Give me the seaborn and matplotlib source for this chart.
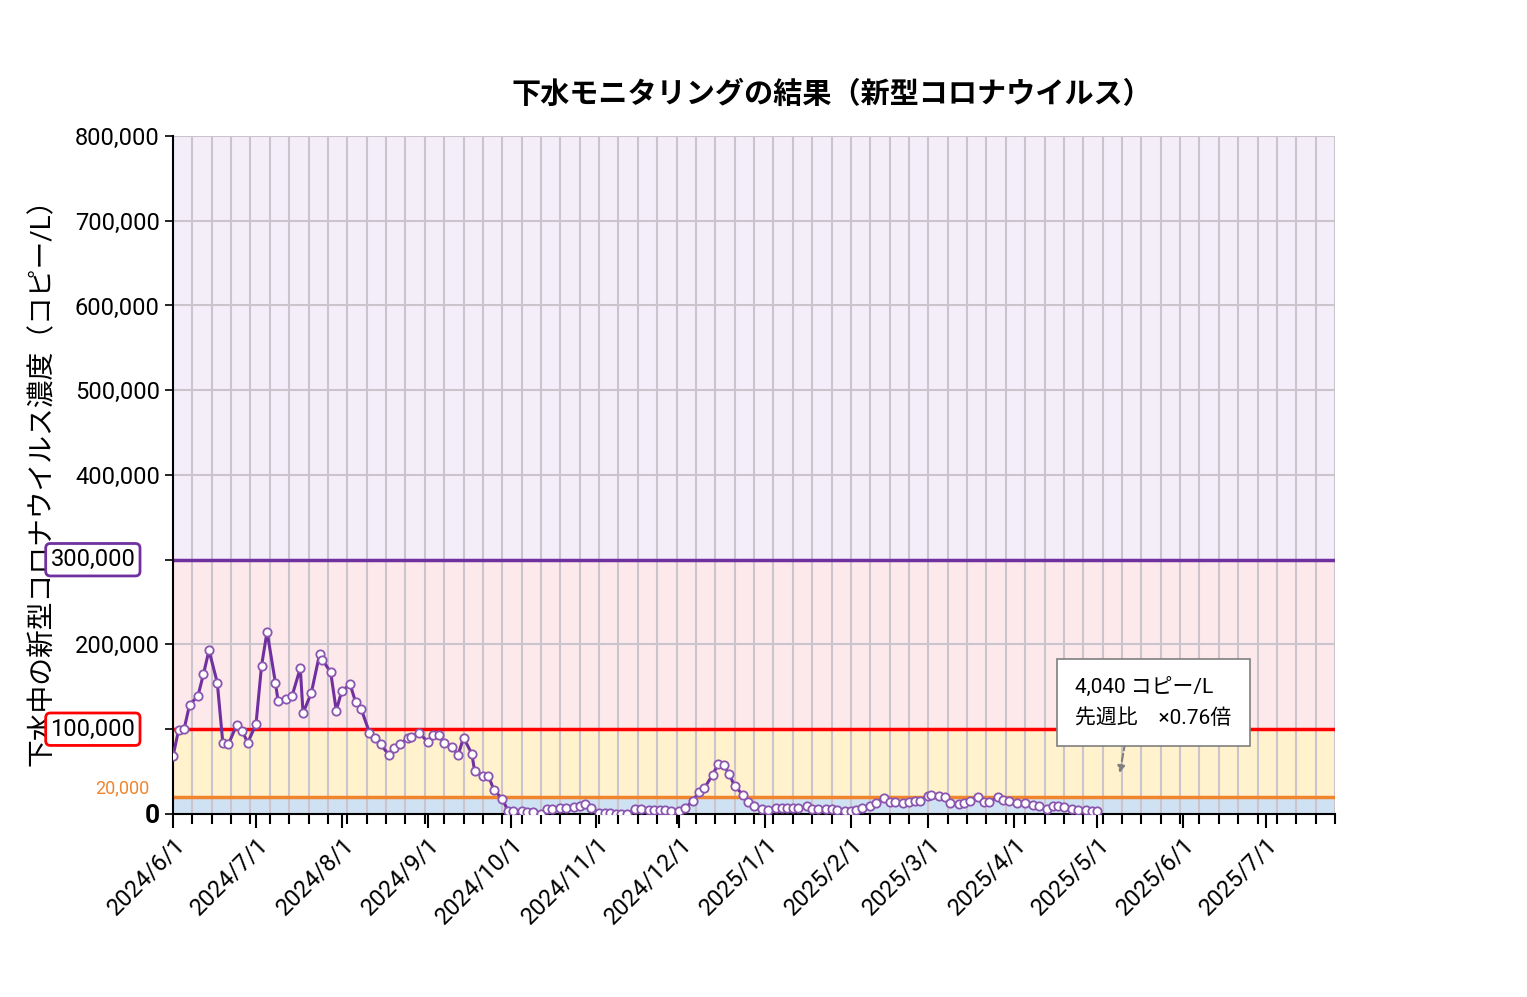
import numpy as np
import pandas as pd
import matplotlib
matplotlib.use("Agg")
import matplotlib.pyplot as plt
import seaborn as sns

plt.rcParams["font.family"] = ["Roboto", "Noto Sans CJK JP", "DejaVu Sans"]

start_date = "2024-06-01"
end_date = "2025-07-26"

# days since 2024/6/1 and concentration (thousand copies/L)
day_offsets = [0, 2, 4, 6, 9, 11, 13, 16, 18, 20, 23, 25, 27, 30, 32, 34, 37, 38, 41, 43,
               46, 47, 50, 53, 54, 57, 59, 61, 64, 66, 68, 71, 73, 75, 78, 80, 82, 85, 86, 89,
               92, 94, 96, 98, 101, 103, 105, 108, 109, 112, 114, 116, 119, 121, 123, 126, 128, 130,
               133, 135, 137, 140, 142, 145, 147, 149, 151, 154, 156, 158, 160, 162, 164, 167, 169, 172,
               174, 176, 178, 180, 183, 185, 188, 190, 192, 195, 197, 199, 201, 203, 206, 208, 210, 213,
               215, 218, 220, 222, 224, 226, 229, 231, 233, 236, 238, 240, 243, 245, 247, 249, 252, 254,
               257, 259, 261, 264, 266, 268, 270, 273, 274, 277, 279, 281, 284, 286, 288, 291, 293, 295,
               298, 300, 302, 305, 308, 311, 313, 316, 318, 320, 322, 325, 327, 330, 332, 334]
concentration = [68, 99, 100, 129, 139, 165, 193, 155, 84, 82, 105, 98, 84, 106, 175, 215, 155, 133, 136, 139,
                 172, 119, 143, 189, 182, 167, 122, 145, 153, 132, 124, 96, 90, 82, 70, 78, 82, 90, 91, 96,
                 85, 93, 93, 84, 79, 69, 90, 71, 51, 45, 45, 28, 18, 4, 4, 3, 2, 2,
                 0.5, 5.4, 6.3, 6.7, 7.1, 7.9, 8.8, 11.3, 7.1, 1.3, 1.3, 1.3, 0.3, 0.3, 0.2, 5.4, 5.4, 5.0,
                 4.6, 4.6, 4.6, 3.3, 3.8, 7.1, 15.4, 26.3, 30.4, 45.9, 58.8, 57.5, 47.5, 32.5, 22.9, 14.2, 8.8, 6.3,
                 4.6, 7.1, 7.1, 6.7, 6.7, 7.1, 8.8, 6.3, 5.8, 5.8, 5.8, 4.6, 3.3, 3.8, 4.2, 7.1, 9.2, 13.3,
                 18.8, 14.2, 13.8, 13.3, 14.2, 15.0, 15.8, 21.7, 22.9, 21.7, 20.0, 12.9, 11.3, 12.5, 15.4, 20.0, 14.6, 14.2,
                 19.6, 16.7, 15.0, 12.9, 12.9, 10.4, 8.8, 6.3, 9.6, 9.6, 8.3, 5.8, 5.0, 4.2, 3.8, 4.04]

band_edges = [0, 20000, 100000, 300000, 800000]
band_colors = ["#cfe2f3", "#fff2cc", "#fde9eb", "#f3eefa"]
threshold_values = [20000, 100000, 300000]
threshold_colors = ["#f0852d", "#ff0000", "#7030a0"]
y_ticks = [0, 100000, 200000, 300000, 400000, 500000, 600000, 700000, 800000]
month_ticks = pd.date_range("2024-06-01", "2025-07-01", freq="MS")

df = pd.DataFrame({
    "date": pd.Timestamp(start_date) + pd.to_timedelta(day_offsets, unit="D"),
    "value": np.array(concentration) * 1000,
})

fig = plt.figure(figsize=(15.27, 9.97), dpi=100)
ax = fig.add_axes([0.1133, 0.1836, 0.761, 0.68])
x0, x1 = pd.Timestamp(start_date), pd.Timestamp(end_date)

for lo, hi, c in zip(band_edges[:-1], band_edges[1:], band_colors):
    ax.axhspan(lo, hi, color=c, zorder=0, lw=0)

# weekly vertical gridlines + horizontal grid
for d in pd.date_range(start_date, end_date, freq="7D"):
    ax.axvline(d, color="#cbc4cc", lw=1.5, zorder=1)
for v in y_ticks:
    ax.axhline(v, color="#cbc4cc", lw=1.5, zorder=1)
for v, c in zip(threshold_values, threshold_colors):
    ax.axhline(v, color=c, lw=2.5, zorder=2)

sns.lineplot(data=df, x="date", y="value", ax=ax, color="#7030a0", lw=2.2, zorder=3,
             marker="o", markersize=6, markerfacecolor="white", markeredgecolor="#8a56b0",
             markeredgewidth=1.3)

ax.set_xlim(x0, x1)
ax.set_ylim(0, 800000)
ax.set_yticks(y_ticks)
labels = ["0"] + [f"{v:,}" for v in y_ticks[1:]]
ax.set_yticklabels(labels, fontsize=17)
for t in ax.get_yticklabels():
    if t.get_text() in ("100,000", "300,000"):
        t.set_alpha(0)
    if t.get_text() == "0":
        t.set_fontsize(19)
        t.set_fontweight("bold")
ax.set_xticks(month_ticks)
ax.set_xticklabels([f"{d.year}/{d.month}/{d.day}" for d in month_ticks], rotation=45,
                   ha="right", rotation_mode="anchor", fontsize=17)
ax.set_xticks(pd.date_range(start_date, end_date, freq="7D"), minor=True)
ax.tick_params(axis="x", which="major", length=10, width=1.5)
ax.tick_params(axis="x", which="minor", length=7, width=1.5)
ax.tick_params(axis="y", length=6, width=1.2)
for s in ["top", "right"]:
    ax.spines[s].set_visible(False)
for s in ["left", "bottom"]:
    ax.spines[s].set_linewidth(1.5)
ax.set_xlabel("")
ax.set_ylabel("下水中の新型コロナウイルス濃度（コピー/L）", fontsize=20, labelpad=14)

# boxed tick labels for thresholds
for v, c in [(100000, "#ff0000"), (300000, "#7030a0")]:
    ax.text(-0.1055, v, f"{v:,}", transform=ax.get_yaxis_transform(), fontsize=17, va="center",
            ha="left", zorder=5,
            bbox=dict(boxstyle="round,pad=0.2", fc="white", ec=c, lw=2), clip_on=False)
ax.text(-0.02, 20000, "20,000", transform=ax.get_yaxis_transform(), fontsize=13,
        color="#f0852d", va="bottom", ha="right")

fig.text(0.545, 0.897, "下水モニタリングの結果（新型コロナウイルス）", fontsize=21,
         fontweight="bold", ha="center")

last = df.iloc[-1]
ax.annotate("", xy=(pd.Timestamp("2025-05-09"), 45000), xytext=(pd.Timestamp("2025-05-12"), 100000),
            arrowprops=dict(arrowstyle="-|>", ls="--", color="#7f7f7f", lw=1.5), zorder=6)
ax.text(0.7765, 0.1275, f"{int(last.value):,} コピー/L\n先週比　×0.76倍", transform=ax.transAxes,
        fontsize=15, va="bottom", ha="left", linespacing=1.6, zorder=6,
        bbox=dict(boxstyle="square,pad=0.9", fc="white", ec="#7f7f7f", lw=1.2))

fig.savefig("out.png", dpi=100)
